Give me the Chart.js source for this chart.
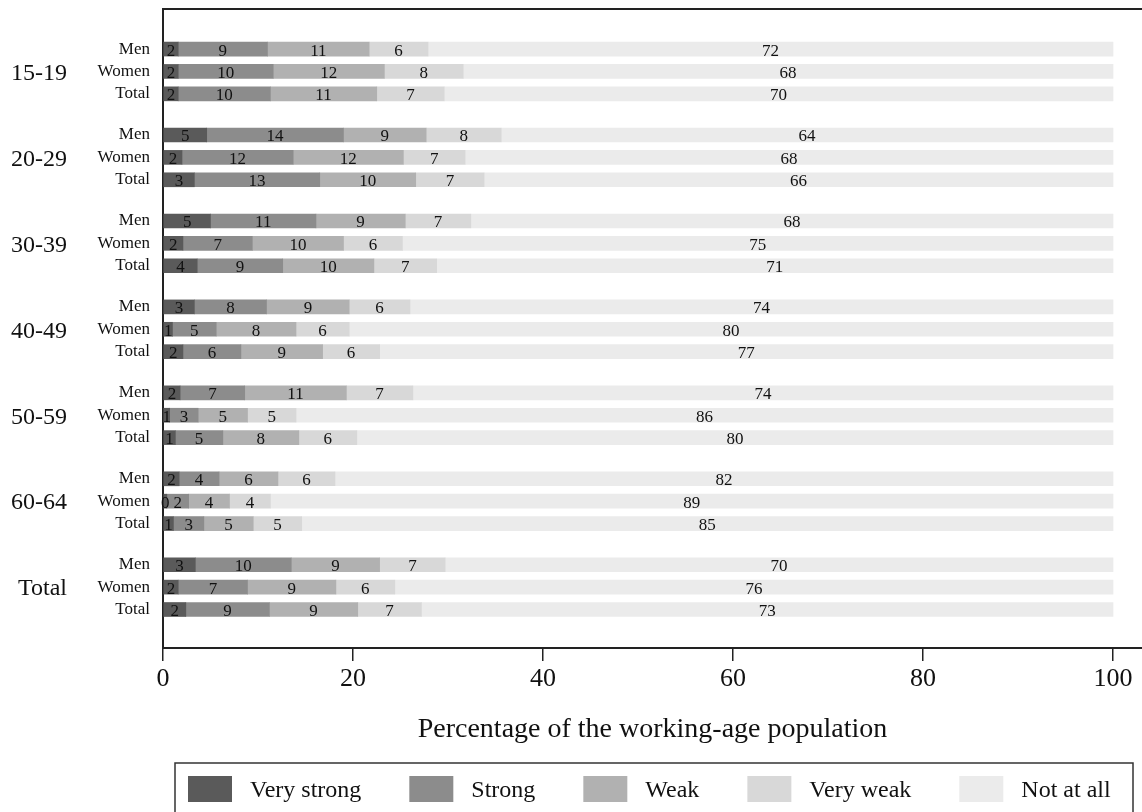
<!DOCTYPE html>
<html>
<head>
<meta charset="utf-8">
<script src="https://cdn.jsdelivr.net/npm/chart.js"></script>
<style>
  body { margin: 0; background: #fff; }
  canvas { display: block; }
</style>
</head>
<body>
<canvas id="myChart" width="1142" height="812"></canvas>
<script>
var ageGroups = ['15-19', '20-29', '30-39', '40-49', '50-59', '60-64', 'Total']
var subGroups = ['Men', 'Women', 'Total']
var seriesNames = ['Very strong', 'Strong', 'Weak', 'Very weak', 'Not at all']
var seriesColors = ['#5a5a5a', '#8c8c8c', '#b1b1b1', '#d8d8d8', '#ebebeb']

// rows: Men, Women, Total for each age group
var veryStrong = [1.6, 1.6, 1.6,  4.6, 2.0, 3.3,  5.0, 2.1, 3.6,  3.3, 1.0, 2.1,  1.8, 0.7, 1.3,  1.7, 0.4, 1.1,  3.4, 1.6, 2.4]
var strong     = [9.4, 10.0, 9.7, 14.4, 11.7, 13.2, 11.1, 7.3, 9.0, 7.6, 4.6, 6.1, 6.8, 3.0, 5.0, 4.2, 2.3, 3.2, 10.1, 7.3, 8.8]
var weak       = [10.7, 11.7, 11.2, 8.7, 11.6, 10.1, 9.4, 9.6, 9.6, 8.7, 8.4, 8.6, 10.7, 5.2, 8.0, 6.2, 4.3, 5.2, 9.3, 9.3, 9.3]
var veryWeak   = [6.2, 8.3, 7.1,  7.9, 6.5, 7.2,  6.9, 6.2, 6.6,  6.4, 5.6, 6.0,  7.0, 5.1, 6.1,  6.0, 4.3, 5.1,  6.9, 6.2, 6.7]
var notAtAll   = [72.1, 68.4, 70.4, 64.4, 68.2, 66.2, 67.6, 74.8, 71.2, 74.0, 80.4, 77.2, 73.7, 86.0, 79.6, 81.9, 88.7, 85.4, 70.3, 75.6, 72.8]

var xTicks = [0, 20, 40, 60, 80, 100]
var allSeries = [veryStrong, strong, weak, veryWeak, notAtAll]

// row position on the y axis: 3 rows per group, then a gap
var groupStep = 3.84
var rowPos = []
for (var g = 0; g < ageGroups.length; g++) {
  for (var s = 0; s < subGroups.length; s++) {
    rowPos.push(g * groupStep + s)
  }
}
var yMin = -1.79
var yMax = rowPos[rowPos.length - 1] + 1.72

var datasets = []
for (var i = 0; i < allSeries.length; i++) {
  datasets.push({
    label: seriesNames[i],
    backgroundColor: seriesColors[i],
    borderWidth: 0,
    barThickness: 14,
    stack: 'one',
    data: allSeries[i].map(function (v, j) { return { x: v, y: rowPos[j] } })
  })
}

var serif = 'Liberation Serif'

var extras = {
  id: 'extras',
  afterDatasetsDraw: function (chart) {
    var ctx = chart.ctx
    ctx.save()
    ctx.fillStyle = '#111'
    ctx.font = '17px "' + serif + '"'
    ctx.textAlign = 'center'
    ctx.textBaseline = 'middle'
    chart.data.datasets.forEach(function (ds, i) {
      var meta = chart.getDatasetMeta(i)
      meta.data.forEach(function (bar, j) {
        var c = bar.getCenterPoint()
        ctx.fillText(String(Math.round(allSeries[i][j])), c.x, c.y + 2)
      })
    })
    ctx.restore()
  },
  afterDraw: function (chart) {
    var ctx = chart.ctx
    var area = chart.chartArea
    var yScale = chart.scales.y
    ctx.save()

    // top frame line
    ctx.strokeStyle = '#222'
    ctx.lineWidth = 2
    ctx.beginPath()
    ctx.moveTo(area.left - 1, area.top)
    ctx.lineTo(area.right, area.top)
    ctx.stroke()

    // age group labels
    ctx.fillStyle = '#111'
    ctx.font = '24px "' + serif + '"'
    ctx.textAlign = 'right'
    ctx.textBaseline = 'middle'
    for (var g = 0; g < ageGroups.length; g++) {
      var y = yScale.getPixelForValue(rowPos[g * 3 + 1])
      ctx.fillText(ageGroups[g], 67, y + 2)
    }

    // legend in a box
    ctx.lineWidth = 1.5
    ctx.strokeStyle = '#333'
    ctx.strokeRect(175, 763, 958, 60)
    ctx.font = '24px "' + serif + '"'
    ctx.textAlign = 'left'
    var x = 188
    for (var i = 0; i < seriesNames.length; i++) {
      ctx.fillStyle = seriesColors[i]
      ctx.fillRect(x, 776, 44, 26)
      ctx.fillStyle = '#111'
      ctx.fillText(seriesNames[i], x + 62, 791)
      x += 62 + ctx.measureText(seriesNames[i]).width + 48
    }
    ctx.restore()
  }
}

function noEdgePadding(scale) {
  scale.paddingTop = 0
  scale.paddingBottom = 0
  scale.paddingLeft = 0
  scale.paddingRight = 0
}

var ctx = document.getElementById('myChart').getContext('2d')
var chart = new Chart(ctx, {
  type: 'bar',
  data: { datasets: datasets },
  plugins: [extras],
  options: {
    indexAxis: 'y',
    responsive: false,
    animation: false,
    devicePixelRatio: 1,
    layout: { padding: { top: 9, left: 0, right: 0, bottom: 0 } },
    plugins: {
      legend: { display: false },
      tooltip: { enabled: false }
    },
    scales: {
      x: {
        type: 'linear',
        stacked: true,
        min: 0,
        max: 103.05,
        afterBuildTicks: function (scale) {
          scale.ticks = xTicks.map(function (v) { return { value: v } })
        },
        afterFit: function (scale) {
          scale.height = 164
          noEdgePadding(scale)
        },
        ticks: {
          padding: 3,
          color: '#111',
          font: { family: serif, size: 26 }
        },
        grid: {
          drawOnChartArea: false,
          drawTicks: true,
          tickLength: 13,
          color: '#222',
          lineWidth: 1.5
        },
        border: { display: true, color: '#222', width: 2 },
        title: {
          display: true,
          text: 'Percentage of the working-age population',
          color: '#111',
          font: { family: serif, size: 28 },
          padding: { top: 0, bottom: 66 }
        }
      },
      y: {
        type: 'linear',
        reverse: true,
        offset: false,
        min: yMin,
        max: yMax,
        afterBuildTicks: function (scale) {
          scale.ticks = rowPos.map(function (v) { return { value: v } })
        },
        afterFit: function (scale) {
          scale.width = 163
          noEdgePadding(scale)
        },
        ticks: {
          autoSkip: false,
          padding: 13,
          color: '#111',
          font: { family: serif, size: 17 },
          callback: function (value, index) { return subGroups[index % 3] }
        },
        grid: { display: false, drawTicks: false, offset: false },
        border: { display: true, color: '#222', width: 2 }
      }
    }
  }
})
</script>
</body>
</html>
